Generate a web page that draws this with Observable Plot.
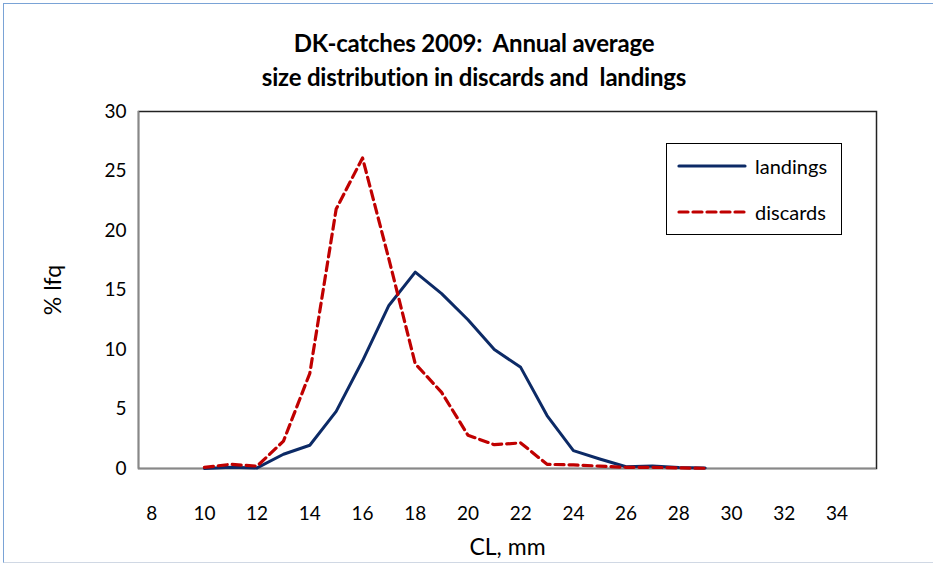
<!DOCTYPE html>
<html><head><meta charset="utf-8">
<script src="https://cdn.jsdelivr.net/npm/d3@7"></script>
<script src="https://cdn.jsdelivr.net/npm/@observablehq/plot@0.6"></script>
<style>
body{margin:0;background:#fff;font-family:Lato,"Liberation Sans",sans-serif;}
#wrap{position:relative;width:931px;height:560px;border:1px solid #7aa3d6;border-bottom-color:#d0d8e4;margin:3px 0 0 3px;box-sizing:border-box;overflow:hidden}
#title{position:absolute;left:0;top:22px;width:940px;text-align:center;font-weight:bold;font-size:24px;line-height:34px;color:#000;letter-spacing:-0.2px}
#chart{position:absolute;left:-4px;top:92px}
#legend{position:absolute;left:662px;top:139px;width:176px;height:92px;border:1.5px solid #000;box-sizing:border-box;background:#fff}
.lg{position:absolute;left:10px;font-size:20px;display:flex;align-items:center}
.lg span{margin-left:8px}
</style></head>
<body>
<div id="wrap">
<div id="title">DK-catches 2009:&nbsp; Annual average<br>size distribution in discards and&nbsp; landings</div>
<div id="chart"></div>
<div id="legend"></div>
</div>
<script>
const sizes = [10,11,12,13,14,15,16,17,18,19,20,21,22,23,24,25,26,27,28,29];
const landings = [0,0.1,0.05,1.2,1.95,4.8,9.05,13.7,16.5,14.7,12.5,10.0,8.5,4.45,1.5,0.8,0.15,0.2,0.08,0.05];
const discards = [0.1,0.35,0.2,2.3,8.0,21.8,26.1,17.6,8.8,6.4,2.8,2.0,2.15,0.35,0.3,0.2,0.1,0.1,0.05,0.02];
const xTicks = [8,10,12,14,16,18,20,22,24,26,28,30,32,34];
const yTicks = [0,5,10,15,20,25,30];
const seriesNames = ["landings","discards"];
const seriesColors = ["#0c2a66","#c00000"];

const land = sizes.map((s,i)=>({x:s,y:landings[i]}));
const disc = sizes.map((s,i)=>({x:s,y:discards[i]}));

const plot = Plot.plot({
  width: 933, height: 474,
  marginLeft: 138, marginRight: 57, marginTop: 15, marginBottom: 102,
  style:{fontFamily:"Lato, 'Liberation Sans', sans-serif", fontSize:"19px", color:"#000", background:"transparent"},
  x:{domain:[7.5,35.5], ticks:xTicks, tickSize:0, tickPadding:38, label:"CL, mm", labelArrow:"none", labelAnchor:"center", labelOffset:86, tickFormat:d=>String(d)},
  y:{domain:[0,30], ticks:yTicks, tickSize:0, tickPadding:12, label:"% lfq", labelArrow:"none", labelAnchor:"center", labelOffset:94},
  marks:[
    Plot.frame({stroke:"#222", strokeWidth:1.5}),
    Plot.ruleX([7.5],{stroke:"#888", strokeWidth:1.5}),
    Plot.ruleY([0],{stroke:"#888", strokeWidth:1.5}),
    Plot.line(land,{x:"x",y:"y",stroke:seriesColors[0],strokeWidth:3}),
    Plot.line(disc,{x:"x",y:"y",stroke:seriesColors[1],strokeWidth:3.2,strokeDasharray:"9,5"})
  ]
});
document.getElementById("chart").appendChild(plot);
// strip any arrows and enlarge axis titles
plot.querySelectorAll("text").forEach(t=>{
  const s = t.textContent;
  if (/CL, mm|% lfq/.test(s)) {
    t.querySelectorAll("tspan").forEach(ts=>{ts.textContent = ts.textContent.replace(/\s*[→↑]\s*/g,"");});
    if (!t.querySelector("tspan")) t.textContent = s.replace(/\s*[→↑]\s*/g,"");
    t.style.fontSize = "23px";
  }
});

const lg = document.getElementById("legend");
seriesNames.forEach((n,i)=>{
  const d = document.createElement("div");
  d.className="lg"; d.style.top = (i===0? 10: 56)+"px";
  d.innerHTML = `<svg width="70" height="20"><line x1="2" x2="68" y1="10" y2="10" stroke="${seriesColors[i]}" stroke-width="3.2" ${i===1?'stroke-dasharray="9,5"':''} stroke-linecap="round"/></svg><span>${n}</span>`;
  lg.appendChild(d);
});
</script>
</body></html>
